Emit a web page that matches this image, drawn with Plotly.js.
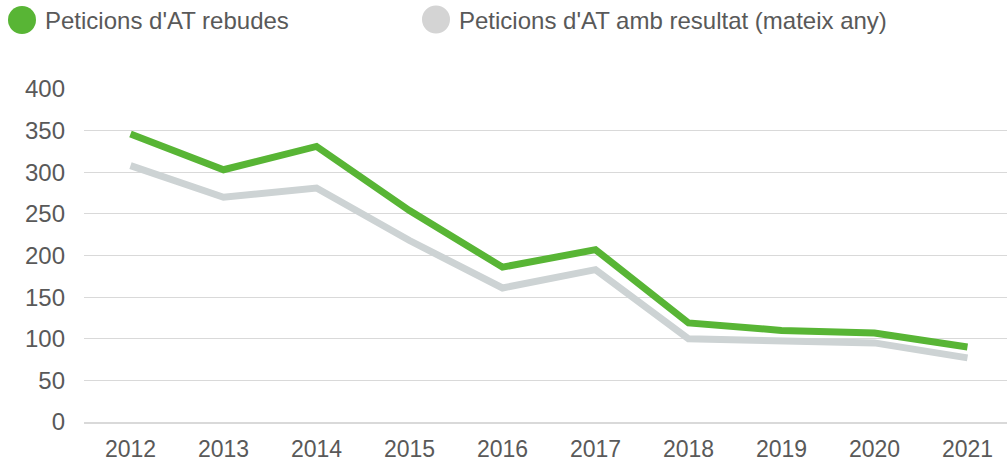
<!DOCTYPE html>
<html>
<head>
<meta charset="utf-8">
<script src="https://cdn.plot.ly/plotly-3.0.1.min.js"></script>
<style>
  html, body { margin: 0; padding: 0; background: #ffffff; }
  #chart { width: 1007px; height: 462px; }
</style>
</head>
<body>
<div id="chart"></div>
<script>
// ---- Data ----
var years = ["2012", "2013", "2014", "2015", "2016", "2017", "2018", "2019", "2020", "2021"];
var rebudes = [346, 303, 331, 254, 186, 207, 119, 110, 107, 90];
var ambResultat = [308, 270, 281, 218, 161, 183, 100, 98, 95, 77];
var seriesNames = ["Peticions d'AT rebudes", "Peticions d'AT amb resultat (mateix any)"];
var yTicks = [0, 50, 100, 150, 200, 250, 300, 350, 400];

// ---- Styling ----
var GREEN = "#58b535";
var GRAY = "#cdd3d4";
var LEGEND_GRAY = "#d4d4d4";
var TEXT = "#595959";
var GRID = "#d9d9d9";
var FONT = "'Liberation Sans', Arial, Helvetica, sans-serif";

var W = 1007, H = 462;
var M = { l: 84, r: 0, t: 89, b: 40 };
var PW = W - M.l - M.r, PH = H - M.t - M.b;
function px(x) { return (x - M.l) / PW; }
function py(y) { return (H - M.b - y) / PH; }

var traces = [
  {
    x: years, y: ambResultat, name: seriesNames[1], type: "scatter", mode: "lines",
    line: { color: GRAY, width: 7 }, showlegend: false, hoverinfo: "skip"
  },
  {
    x: years, y: rebudes, name: seriesNames[0], type: "scatter", mode: "lines",
    line: { color: GREEN, width: 7 }, showlegend: false, hoverinfo: "skip"
  }
];

function circle(cx, cy, d, color) {
  return {
    type: "circle", xref: "paper", yref: "paper",
    x0: px(cx - d / 2), x1: px(cx + d / 2),
    y0: py(cy + d / 2), y1: py(cy - d / 2),
    fillcolor: color, line: { width: 0 }, layer: "above"
  };
}

var layout = {
  width: W, height: H,
  margin: M,
  paper_bgcolor: "#ffffff",
  plot_bgcolor: "#ffffff",
  font: { family: FONT, size: 24, color: TEXT },
  showlegend: false,
  xaxis: {
    type: "category",
    range: [-0.5, 9.425],
    showgrid: false,
    showline: true, linecolor: GRID, linewidth: 1.5,
    ticks: "", ticklabelstandoff: 6,
    tickfont: { family: FONT, size: 23, color: TEXT },
    fixedrange: true
  },
  yaxis: {
    range: [0, 400],
    tickvals: yTicks,
    showgrid: true, gridcolor: GRID, gridwidth: 1,
    zeroline: false,
    showline: false,
    ticks: "", ticklabelstandoff: 18,
    tickfont: { family: FONT, size: 24, color: TEXT },
    fixedrange: true
  },
  shapes: [
    circle(22, 20, 28, GREEN),
    circle(436, 19.5, 28, LEGEND_GRAY)
  ],
  annotations: [
    {
      xref: "paper", yref: "paper", x: px(43), y: py(21),
      xanchor: "left", yanchor: "middle", showarrow: false,
      text: seriesNames[0], font: { family: FONT, size: 24, color: TEXT }
    },
    {
      xref: "paper", yref: "paper", x: px(457), y: py(21),
      xanchor: "left", yanchor: "middle", showarrow: false,
      text: seriesNames[1], font: { family: FONT, size: 24, color: TEXT }
    }
  ]
};

Plotly.newPlot("chart", traces, layout, { displayModeBar: false, staticPlot: true });
</script>
</body>
</html>
